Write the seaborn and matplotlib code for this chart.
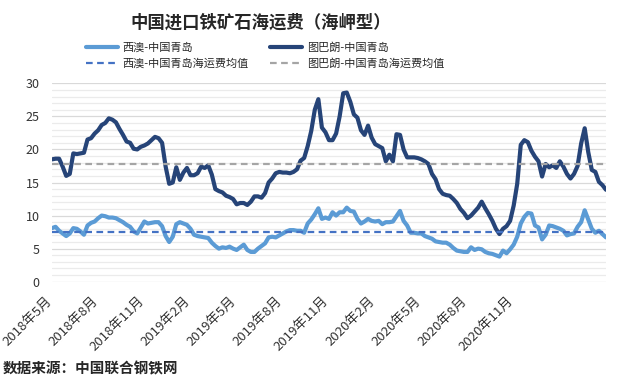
import numpy as np
import pandas as pd
import matplotlib
matplotlib.use("Agg")
from matplotlib import pyplot as plt
from matplotlib.lines import Line2D
from matplotlib.ticker import MultipleLocator
from matplotlib.transforms import ScaledTranslation
import seaborn as sns

sns.set_theme(style="white")
plt.rcParams['font.family'] = ['Noto Sans CJK SC', 'DejaVu Sans']
plt.rcParams['axes.unicode_minus'] = False

# category axis: one label every 13 points
tick_labels = ["2018年5月", "2018年8月", "2018年11月", "2019年2月", "2019年5月",
               "2019年8月", "2019年11月", "2020年2月", "2020年5月", "2020年8月",
               "2020年11月"]
label_step = 13

# 西澳-中国青岛
xiao = [8.1, 8.3, 7.7, 7.3, 6.9, 7.3, 8.1, 8.0, 7.6, 7.1,
        8.5, 8.9, 9.1, 9.6, 10.0, 9.9, 9.7, 9.7, 9.6, 9.3,
        9.0, 8.6, 8.3, 7.6, 7.3, 8.2, 9.1, 8.8, 8.9, 9.0,
        9.0, 8.4, 6.9, 6.0, 6.8, 8.7, 9.0, 8.8, 8.6, 8.0,
        7.1, 6.9, 6.8, 6.7, 6.6, 5.9, 5.4, 5.0, 5.2, 5.1,
        5.3, 5.0, 4.8, 5.2, 5.6, 4.8, 4.5, 4.5, 5.0, 5.4,
        5.8, 6.7, 6.8, 6.7, 7.0, 7.3, 7.6, 7.8, 7.8, 7.7,
        7.7, 7.4, 8.8, 9.4, 10.2, 11.1, 9.5, 9.7, 9.5, 10.5,
        10.0, 10.5, 10.5, 11.2, 10.7, 10.6, 9.5, 8.8, 9.1, 9.5,
        9.2, 9.1, 9.2, 8.7, 9.0, 9.0, 9.1, 9.9, 10.7, 9.2,
        8.5, 7.4, 7.4, 7.3, 7.3, 6.9, 6.7, 6.5, 6.1, 6.0,
        5.9, 5.9, 5.6, 5.1, 4.7, 4.6, 4.5, 4.5, 5.2, 4.8,
        5.0, 4.9, 4.5, 4.3, 4.2, 4.0, 3.8, 4.7, 4.3, 4.9,
        5.6, 6.8, 8.8, 9.8, 10.4, 10.3, 8.5, 8.2, 6.4, 7.1,
        8.5, 8.4, 8.2, 8.0, 7.7, 7.0, 7.2, 7.3, 8.3, 9.0,
        10.8, 9.4, 8.0, 7.4, 7.7, 7.2, 6.7]

# 图巴朗-中国青岛
tubalang = [18.5, 18.6, 18.6, 17.4, 16.0, 16.3, 19.4, 19.3, 19.4, 19.5,
            21.5, 21.7, 22.4, 22.9, 23.7, 24.0, 24.7, 24.5, 24.1, 23.1,
            22.2, 21.2, 21.0, 20.1, 20.0, 20.4, 20.6, 20.9, 21.4, 21.9,
            21.7, 21.0, 17.4, 14.8, 15.0, 17.3, 15.4, 16.5, 17.2, 16.1,
            16.1, 16.4, 17.4, 17.2, 17.6, 16.2, 14.0, 13.7, 13.5, 13.0,
            12.8, 12.5, 11.7, 11.9, 11.9, 11.6, 12.1, 12.9, 12.9, 12.7,
            13.4, 15.0, 15.6, 16.4, 16.6, 16.5, 16.5, 16.4, 16.6, 17.0,
            18.3, 18.7, 20.5, 22.8, 26.0, 27.6, 23.3, 22.6, 21.4, 21.4,
            22.4, 25.0, 28.5, 28.6, 27.2, 25.3, 24.8, 22.9, 22.2, 23.6,
            21.8, 20.8, 20.5, 20.2, 18.2, 19.2, 18.2, 22.3, 22.2, 20.0,
            18.8, 18.8, 18.8, 18.7, 18.5, 18.2, 17.8, 16.3, 15.5, 14.0,
            13.3, 13.1, 13.0, 12.5, 11.9, 11.0, 10.4, 9.6, 10.0, 10.6,
            11.2, 12.1, 11.1, 10.2, 9.2, 8.0, 7.2, 8.0, 8.4, 9.2,
            11.5, 14.8, 20.7, 21.4, 21.1, 19.8, 18.9, 18.2, 15.9, 17.8,
            17.3, 17.6, 17.2, 18.2, 17.4, 16.3, 15.6, 16.3, 17.5, 20.9,
            23.2, 19.6, 16.9, 16.6, 15.1, 14.6, 13.9]

# 均值
xiao_mean = 7.47
tubalang_mean = 17.76

names = ["西澳-中国青岛", "图巴朗-中国青岛",
         "西澳-中国青岛海运费均值", "图巴朗-中国青岛海运费均值"]
c_light = "#5B9BD5"
c_dark = "#264478"
c_light_mean = "#4472C4"
c_dark_mean = "#A5A5A5"

df = pd.DataFrame({"idx": np.arange(len(xiao)),
                   "xiao": xiao, "tubalang": tubalang})

W, H = 623, 378
fig = plt.figure(figsize=(W / 100, H / 100), dpi=100)
ax = fig.add_axes([52 / W, 1 - 281.7 / H, (606 - 52) / W, (281.7 - 83.3) / H])

sns.lineplot(data=df, x="idx", y="xiao", ax=ax, color=c_light, lw=3,
             legend=False, zorder=3)
sns.lineplot(data=df, x="idx", y="tubalang", ax=ax, color=c_dark, lw=3,
             legend=False, zorder=3)
ax.axhline(xiao_mean, color=c_light_mean, lw=1.6, ls=(0, (3, 2)), zorder=4)
ax.axhline(tubalang_mean, color=c_dark_mean, lw=1.6, ls=(0, (3, 2)), zorder=4)

ax.set_xlim(0, len(xiao) - 1)
ax.set_ylim(0, 30)
ax.yaxis.set_major_locator(MultipleLocator(5))
ax.yaxis.set_minor_locator(MultipleLocator(1))
ax.grid(which="major", axis="y", color="#D9D9D9", lw=0.9)
ax.grid(which="minor", axis="y", color="#EBEBEB", lw=0.9)
ax.set_axisbelow(True)
for s in ax.spines.values():
    s.set_visible(False)

ax.set_xticks(range(0, label_step * len(tick_labels), label_step))
ax.set_xticklabels(tick_labels, rotation=45, ha="right",
                   rotation_mode="anchor", fontsize=9.5, color="#333333")
ax.tick_params(axis="x", length=0, pad=9)
shift = ScaledTranslation(-7 / 100, 0, fig.dpi_scale_trans)
for lab in ax.get_xticklabels():
    lab.set_transform(lab.get_transform() + shift)
ax.tick_params(axis="y", which="both", length=0, pad=9, labelsize=9,
               labelcolor="#333333")
ax.set_xlabel("")
ax.set_ylabel("")

handles = [Line2D([], [], color=c_light, lw=3),
           Line2D([], [], color=c_light_mean, lw=1.6, ls=(0, (3, 2))),
           Line2D([], [], color=c_dark, lw=3),
           Line2D([], [], color=c_dark_mean, lw=1.6, ls=(0, (3, 2)))]
labels = [names[0], names[2], names[1], names[3]]
leg = fig.legend(handles, labels, ncol=2, loc="upper left",
                 bbox_to_anchor=(86 / W, 1 - 42 / H), frameon=False,
                 fontsize=8, handlelength=2.9, handletextpad=0.4,
                 columnspacing=1.9, labelspacing=0.55, borderpad=0,
                 borderaxespad=0)
for t in leg.get_texts():
    t.set_color("#262626")

fig.text(261 / W, 1 - 23 / H, "中国进口铁矿石海运费（海岬型）",
         fontsize=12.5, fontweight="bold", ha="center", va="center")
fig.text(3 / W, 1 - 368 / H, "数据来源：中国联合钢铁网",
         fontsize=10.5, fontweight="bold", ha="left", va="center")

fig.savefig("out.png", dpi=100)
